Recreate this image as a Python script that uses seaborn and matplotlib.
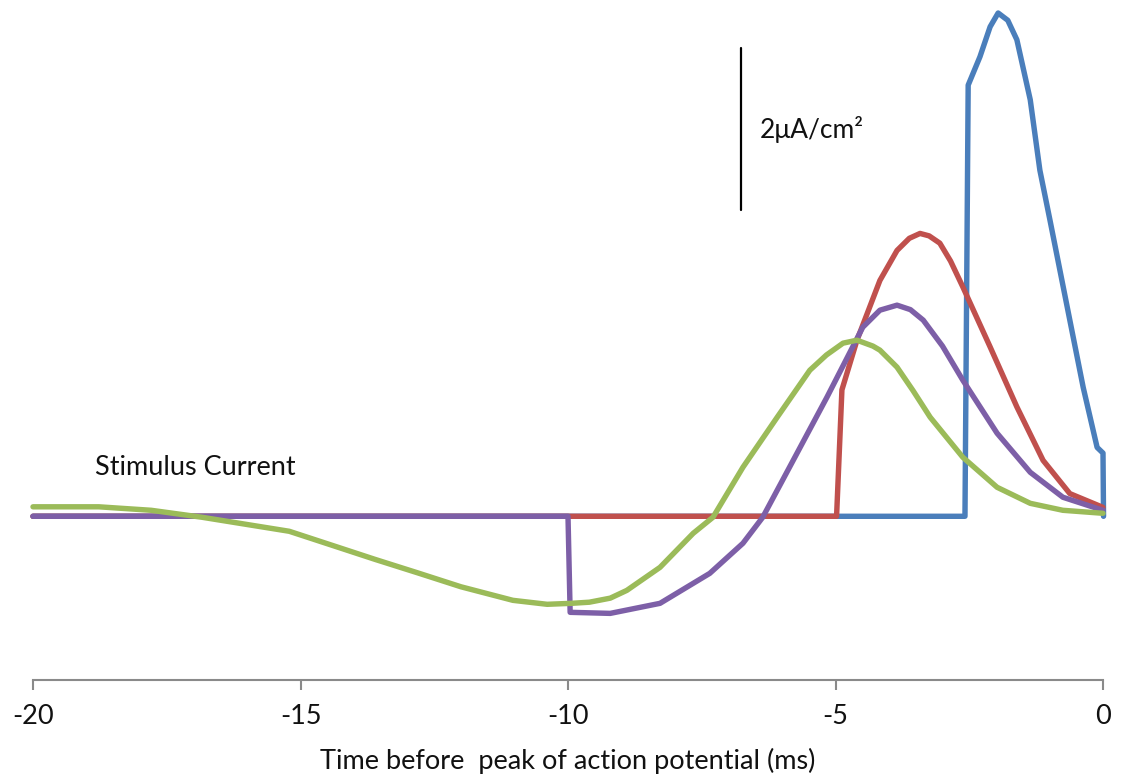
import numpy as np
import pandas as pd
import matplotlib
matplotlib.use("Agg")
import matplotlib.pyplot as plt
import seaborn as sns

# ---- data (time in ms, current in uA/cm^2) ----
blue_x = [-20.0, -2.58, -2.52, -2.30, -2.11, -1.96, -1.78, -1.61, -1.36, -1.18, -0.99, -0.62, -0.37, -0.11, 0.0, 0.01]
blue_y = [0.0, 0.0, 5.32, 5.67, 6.04, 6.21, 6.12, 5.88, 5.14, 4.27, 3.65, 2.42, 1.59, 0.85, 0.78, 0.0]

red_x = [-20.0, -4.98, -4.88, -4.60, -4.17, -3.85, -3.62, -3.42, -3.25, -3.05, -2.85, -2.62, -2.11,
         -1.61, -1.12, -0.62, 0.0]
red_y = [0.0, 0.0, 1.56, 2.17, 2.91, 3.28, 3.43, 3.49, 3.46, 3.37, 3.15, 2.83, 2.09,
         1.35, 0.69, 0.28, 0.11]

purple_x = [-20.0, -10.0, -9.96, -9.21, -8.28, -7.35, -6.73, -6.36, -5.79, -5.16, -4.49, -4.17,
            -3.85, -3.60, -3.36, -3.00, -2.62, -1.98, -1.36, -0.75, 0.0]
purple_y = [0.0, 0.0, -1.185, -1.198, -1.074, -0.704, -0.333, -0.012, 0.691, 1.469, 2.333, 2.543,
            2.605, 2.55, 2.420, 2.10, 1.679, 1.025, 0.543, 0.235, 0.074]

green_x = [-20.0, -18.77, -17.79, -16.84, -15.21, -14.40, -13.61, -12.80, -12.00, -11.03, -10.39,
           -9.94, -9.60, -9.21, -8.90, -8.28, -7.66, -7.29, -6.73, -6.09, -5.48, -5.17, -4.86,
           -4.60, -4.30, -4.17, -3.85, -3.55, -3.23, -2.62, -1.98, -1.36, -0.75, 0.0]
green_y = [0.117, 0.117, 0.074, -0.012, -0.185, -0.36, -0.531, -0.70, -0.870, -1.037, -1.086,
           -1.074, -1.06, -1.01, -0.914, -0.630, -0.210, -0.012, 0.605, 1.222, 1.802, 1.99, 2.136,
           2.173, 2.10, 2.05, 1.840, 1.55, 1.222, 0.728, 0.358, 0.160, 0.074, 0.037]

series_names = ["blue", "red", "purple", "green"]
series_colors = ["#4A7EBB", "#C0504D", "#7D5FA7", "#9BBB59"]
xticks = [-20, -15, -10, -5, 0]
xlabel = "Time before  peak of action potential (ms)"
scale_label = "2\u03bcA/cm\u00b2"
stim_label = "Stimulus Current"

frames = []
for name, xs, ys in zip(series_names,
                        [blue_x, red_x, purple_x, green_x],
                        [blue_y, red_y, purple_y, green_y]):
    d = pd.DataFrame({"t": xs, "I": ys})
    d["series"] = name
    frames.append(d)
df = pd.concat(frames, ignore_index=True)

sns.set_style("white")
plt.rcParams["font.family"] = ["Lato", "DejaVu Sans"]

fig = plt.figure(figsize=(11.23, 7.80), dpi=100)
ax = fig.add_axes([33 / 1123, 1 - 680 / 780, (1103 - 33) / 1123, 680 / 780])

sns.lineplot(data=df, x="t", y="I", hue="series", hue_order=series_names,
             palette=dict(zip(series_names, series_colors)), sort=False,
             estimator=None, units="series", legend=False, ax=ax)
for line in ax.get_lines():
    line.set_linewidth(3.9)
    line.set_solid_joinstyle("round")
    line.set_solid_capstyle("round")
    line.set_clip_on(False)

# scale bar
ax.plot([-6.77, -6.77], [3.78, 5.78], color="black", linewidth=1.6)
ax.text(-6.42, 4.77, scale_label, fontsize=19, va="center", ha="left", color="#111111")
ax.text(-18.84, 0.6, stim_label, fontsize=19.5, va="center", ha="left", color="#111111")

ax.set_xlim(-20, 0)
ax.set_ylim(-2.02, 516 / 81)
ax.set_xticks(xticks)
ax.set_xticklabels([str(t) for t in xticks])
ax.set_yticks([])
ax.set_xlabel(xlabel, fontsize=19.5, labelpad=14, color="#111111")
ax.set_ylabel("")
for s in ["top", "left", "right"]:
    ax.spines[s].set_visible(False)
ax.spines["bottom"].set_color("#8a8a8a")
ax.spines["bottom"].set_linewidth(1.5)
ax.tick_params(axis="x", direction="out", length=7, width=1.5, color="#8a8a8a",
               labelsize=19.5, pad=10, labelcolor="#111111", bottom=True)
ax.patch.set_alpha(0)

fig.savefig("out.png", dpi=100)
